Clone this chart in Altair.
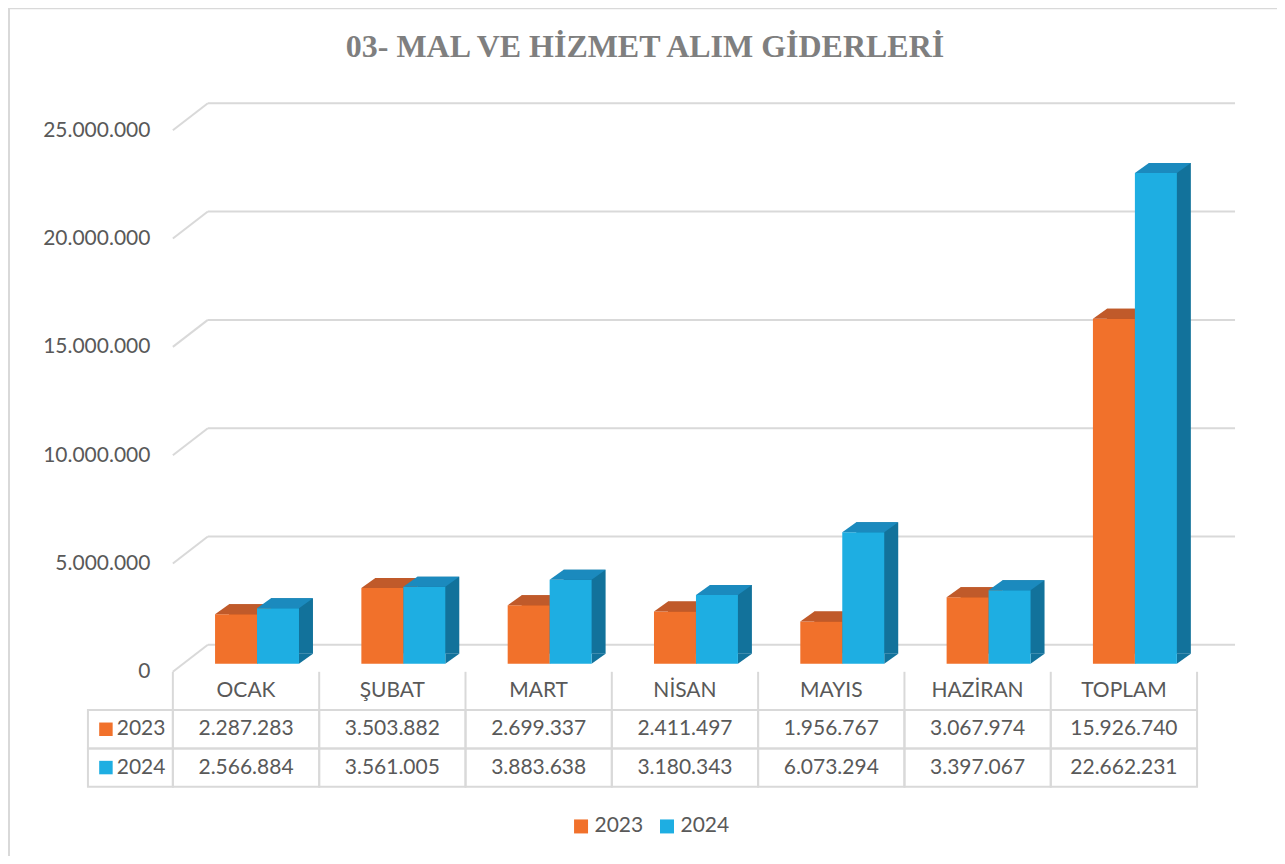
import altair as alt
import pandas as pd

# ---------------- data ----------------
categories = ["OCAK", "ŞUBAT", "MART", "NİSAN", "MAYIS", "HAZİRAN", "TOPLAM"]
values_2023 = [2287283, 3503882, 2699337, 2411497, 1956767, 3067974, 15926740]
values_2024 = [2566884, 3561005, 3883638, 3180343, 6073294, 3397067, 22662231]
years = ["2023", "2024"]
y_ticks = [0, 5000000, 10000000, 15000000, 20000000, 25000000]
title_text = "03- MAL VE HİZMET ALIM GİDERLERİ"

# ---------------- styles ----------------
W, H = 1025, 542
GRID = "#d9d9d9"
TXT = "#595959"
FONT = "Lato"
front_col = {"2023": "#F1712B", "2024": "#1EAEE2"}
top_col = {"2023": "#C05A2A", "2024": "#1B8ABE"}
side_col = {"2023": "#B5501F", "2024": "#12729B"}
bar_off = {"2023": -10, "2024": 32}
BW, DX, DY = 42, 14, 10
SHIFT_Y = -8

bars = pd.DataFrame({
    "cat": categories * 2,
    "year": [years[0]] * len(categories) + [years[1]] * len(categories),
    "value": values_2023 + values_2024,
})
ticks_df = pd.DataFrame({"v": y_ticks})
header_df = pd.DataFrame({"cat": categories, "row": ["h"] * len(categories)})
table_df = bars.rename(columns={"year": "row"})
left_df = pd.DataFrame({"row": years})
border_df = pd.DataFrame({"a": [0]})

xscale = alt.Scale(domain=categories, paddingInner=0, paddingOuter=0)
yscale = alt.Scale(domain=[0, 25000000], nice=False, zero=True)
yaxis = alt.Axis(values=y_ticks, format=",d", domain=False, ticks=False, grid=False,
                 labelPadding=23, labelFont=FONT, labelFontSize=21, labelColor=TXT, title=None)
cscale = alt.Scale(domain=years, range=[front_col[y] for y in years])
legend = alt.Legend(orient="none", legendX=398, legendY=686, direction="horizontal", title=None,
                    symbolType="square", symbolSize=196, symbolStrokeWidth=0, symbolOpacity=1,
                    labelFont=FONT, labelFontSize=21, labelColor=TXT, columnPadding=13,
                    labelOffset=3, padding=0)


def X(**kw):
    return alt.X("cat:N", scale=xscale, axis=None, sort=categories, **kw)


def Yb(field):
    return alt.Y(field, scale=yscale, axis=yaxis)


# custom shapes (unit = sqrt(size)/2 px = 35px)
S = 35.0
SIZE = int((2 * S) ** 2)
def p(px, py):
    return f"{px / S:.4f},{py / S:.4f}"
top_path = ("M" + p(-BW / 2, 0) + "L" + p(BW / 2, 0) + "L" + p(BW / 2 + DX, -DY)
            + "L" + p(-BW / 2 + DX, -DY) + "Z")
tri_path = ("M" + p(BW / 2, -DY) + "L" + p(BW / 2, 0) + "L" + p(BW / 2 + DX, -DY) + "Z")

base_bars = alt.Chart(bars)

layers = []
# back grid
layers.append(alt.Chart(ticks_df).mark_rule(color=GRID, strokeWidth=2, xOffset=35, x2Offset=38,
                                              yOffset=-27).encode(
    y=Yb("v:Q"), x=alt.value(0), x2=alt.value(W)))
# slanted connectors
layers.append(alt.Chart(ticks_df).mark_rule(color=GRID, strokeWidth=2, y2Offset=-27).encode(
    y=Yb("v:Q"), y2="v:Q", x=alt.value(0), x2=alt.value(35)))

for yr in years:
    src = base_bars.transform_filter(alt.datum.year == yr)
    off = bar_off[yr]
    # side face (shadow bar)
    layers.append(src.mark_bar(width=BW, xOffset=off + DX, yOffset=SHIFT_Y - DY,
                               y2Offset=SHIFT_Y - DY, color=side_col[yr]).encode(
        x=X(), y=Yb("value:Q"), y2=alt.datum(0)))
    # bottom triangle of side face
    layers.append(src.mark_point(shape=tri_path, size=SIZE, filled=True, opacity=1, strokeWidth=0,
                                 color=side_col[yr], xOffset=off, yOffset=SHIFT_Y).encode(
        x=X(), y=alt.datum(0)))
    # front face
    layers.append(src.mark_bar(width=BW, xOffset=off, yOffset=SHIFT_Y, y2Offset=SHIFT_Y).encode(
        x=X(), y=Yb("value:Q"), y2=alt.datum(0),
        color=alt.Color("year:N", scale=cscale, legend=legend)))
    # top face
    layers.append(src.mark_point(shape=top_path, size=SIZE, filled=True, opacity=1, strokeWidth=0,
                                 color=top_col[yr], xOffset=off, yOffset=SHIFT_Y).encode(
        x=X(), y=Yb("value:Q")))

# outer border
layers.append(alt.Chart(border_df).mark_rect(fillOpacity=0, stroke=GRID, strokeWidth=2).encode(
    x=alt.value(-164), x2=alt.value(1150), y=alt.value(-122), y2=alt.value(760)))

bar_group = alt.layer(*layers)

# ---------------- table ----------------
rscale = alt.Scale(type="band", domain=["h"] + years, range=[H, H + 115], paddingInner=0, paddingOuter=0)
raxis = alt.Axis(orient="left", domain=False, ticks=False, grid=False, labelPadding=8,
                 labelExpr="datum.value == 'h' ? '' : datum.value", labelFont=FONT,
                 labelFontSize=21, labelColor=TXT, title=None)


def Yr():
    return alt.Y("row:N", scale=rscale, axis=raxis)


tlayers = []
tlayers.append(alt.Chart(table_df).mark_rect(fillOpacity=0, stroke=GRID, strokeWidth=2).encode(
    x=X(), y=Yr()))
tlayers.append(alt.Chart(left_df).mark_rect(fillOpacity=0, stroke=GRID, strokeWidth=2).encode(
    x=alt.value(-85), x2=alt.value(0), y=Yr()))
tlayers.append(alt.Chart(header_df).mark_rule(color=GRID, strokeWidth=2).encode(
    x=X(bandPosition=0), y=alt.value(H), y2=alt.value(H + 38)))
tlayers.append(alt.Chart(header_df).transform_filter(alt.datum.cat == categories[-1]).mark_rule(
    color=GRID, strokeWidth=2).encode(x=X(bandPosition=1), y=alt.value(H), y2=alt.value(H + 38)))
tlayers.append(alt.Chart(header_df).mark_text(font=FONT, fontSize=21, color=TXT).encode(
    x=X(), y=Yr(), text="cat:N"))
tlayers.append(alt.Chart(table_df).mark_text(font=FONT, fontSize=21, color=TXT).encode(
    x=X(), y=Yr(), text=alt.Text("value:Q", format=",d")))
tlayers.append(alt.Chart(left_df).mark_point(shape="square", filled=True, size=182, opacity=1,
                                             strokeWidth=0).encode(
    x=alt.value(-67), y=Yr(), color=alt.Color("row:N", scale=cscale, legend=legend)))

table_group = alt.layer(*tlayers)

chart = alt.layer(bar_group, table_group).resolve_scale(y="independent").properties(
    width=W, height=H,
    title=alt.Title(title_text, font="Liberation Serif", fontSize=32, fontWeight="bold",
                    color="#7f7f7f", anchor="middle", dx=-40, offset=-57),
    padding={"left": 165, "top": 122, "right": 80, "bottom": 184},
    autosize=alt.AutoSizeParams(type="none"),
).configure(
    locale={"number": {"decimal": ",", "thousands": ".", "grouping": [3], "currency": ["", ""]}},
    view={"stroke": "transparent", "strokeWidth": 0},
)

chart.save("out.html", embed_options={"renderer": "svg", "actions": False})
